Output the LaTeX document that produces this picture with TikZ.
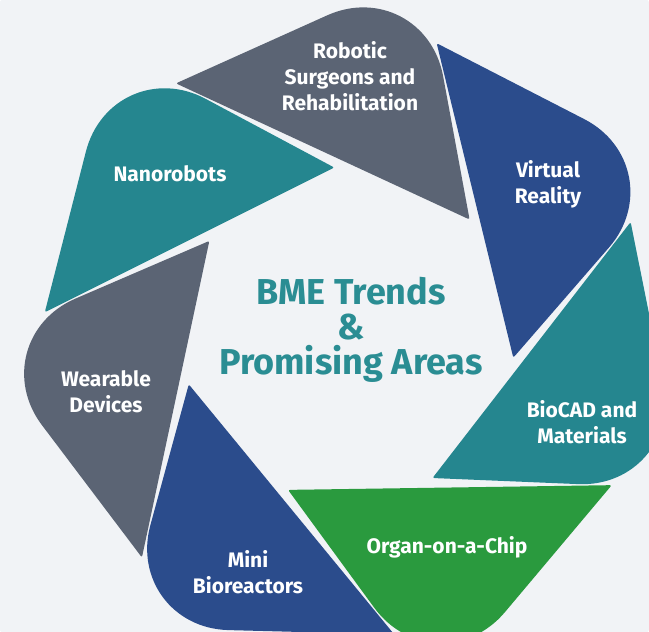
\documentclass[tikz,border=0pt]{standalone}
\usepackage{fontspec}
\setmainfont{Fira Sans}
\usetikzlibrary{calc}

\definecolor{slate}{HTML}{5B6474}
\definecolor{seateal}{HTML}{25868F}
\definecolor{navy}{HTML}{2B4C8C}
\definecolor{leaf}{HTML}{2A9A3E}
\definecolor{headteal}{HTML}{2A8D93}
\definecolor{backdrop}{HTML}{F1F3F6}

% one shutter blade: #1 angle of inner tip, #2 colour, #3 name
\newcommand{\blade}[3]{%
  \coordinate (#3a) at (#1+81.2:304);
  \coordinate (#3c) at (#1+34.9:370);
  \coordinate (#3t) at (#1:167);
  \fill[#2] (#3a) -- ($(#3c)!108pt!(#3a)$)
    .. controls ($(#3c)!50pt!(#3a)$) and ($(#3c)!50pt!(#3t)$) .. ($(#3c)!108pt!(#3t)$)
    -- (#3t) -- cycle;
}

\begin{document}
\begin{tikzpicture}[
            x = 1pt, y = 1pt, % one unit per pixel
            rounded corners = 2pt,
            bladetext/.style = {text = white, align = center, font = \fontsize{21}{26}\selectfont\bfseries},
            centretext/.style = {text = headteal, align = center, font = \fontsize{36}{35}\selectfont\bfseries}
        ]

        \useasboundingbox (-348,-298) rectangle (301,334);
        \clip (-348,-298) rectangle (301,334);
        \fill[backdrop] (-348,-298) rectangle (301,334);

        \blade{94.7}{seateal}{nano}
        \blade{43.27}{slate}{robo}
        \blade{-8.16}{navy}{vr}
        \blade{-59.59}{seateal}{biocad}
        \blade{-111.02}{leaf}{organ}
        \blade{-162.45}{navy}{mini}
        \blade{-213.88}{slate}{wear}

        \node[bladetext] (robotic) at (2,258) {Robotic\\Surgeons and\\Rehabilitation};
        \node[bladetext] (nanorobots) at (-178,160) {Nanorobots};
        \node[bladetext] (virtual) at (200,150) {Virtual\\Reality};
        \node[bladetext] (wearable) at (-242,-58) {Wearable\\Devices};
        \node[bladetext] (biocadmat) at (234,-88) {BioCAD and\\Materials};
        \node[bladetext] (bioreact) at (-100,-238) {Mini\\Bioreactors};
        \node[bladetext] (organchip) at (99,-213) {Organ-on-a-Chip};

        \node[centretext] (heading) at (3,4) {BME Trends\\\&\\Promising Areas};

    \end{tikzpicture}
\end{document}
